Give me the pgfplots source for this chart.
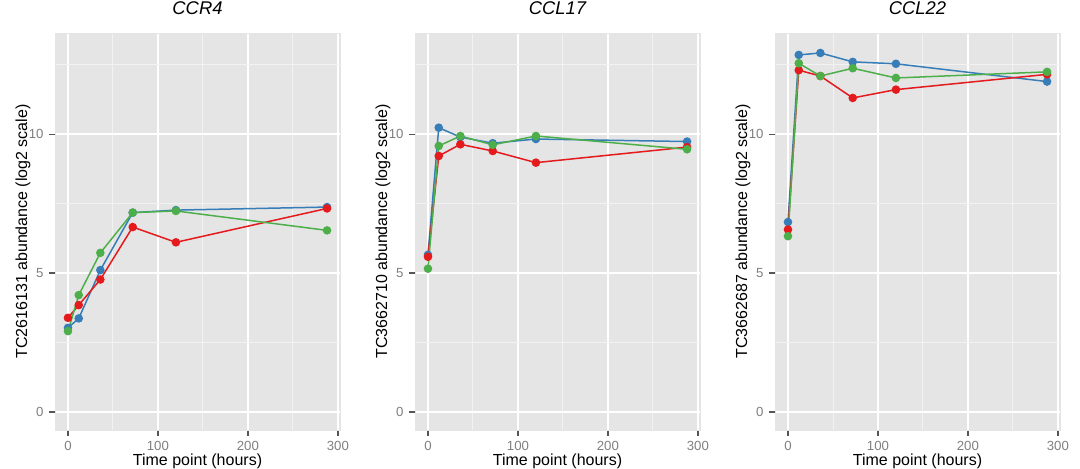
\documentclass[border=0pt]{standalone}
\usepackage{fontspec}
\setmainfont{Liberation Sans}
\usepackage{pgfplots}
\usepackage{pgfplotstable}
\pgfplotsset{compat=1.18}

\definecolor{panelbg}{HTML}{E5E5E5}
\definecolor{minorgrid}{HTML}{F2F2F2}
\definecolor{ticktext}{HTML}{7F7F7F}
\definecolor{tickmark}{HTML}{555555}
\definecolor{sred}{HTML}{E41A1C}
\definecolor{sblue}{HTML}{377EB8}
\definecolor{sgreen}{HTML}{4DAF4A}

% time (h), three replicate series per gene
\pgfplotstableread{
t   blue  red   green
0   3.03  3.39  2.91
12  3.37  3.85  4.21
36  5.11  4.77  5.73
72  7.18  6.66  7.18
120 7.27  6.11  7.24
288 7.38  7.33  6.54
}\ccrfour

\pgfplotstableread{
t   blue  red   green
0   5.66  5.59  5.16
12  10.24 9.22  9.58
36  9.90  9.64  9.94
72  9.68  9.40  9.62
120 9.83  8.98  9.94
288 9.74  9.54  9.46
}\ccltwelve

\pgfplotstableread{
t   blue  red   green
0   6.84  6.57  6.33
12  12.86 12.31 12.56
36  12.93 12.10 12.10
72  12.61 11.31 12.38
120 12.54 11.61 12.03
288 11.90 12.16 12.25
}\cclttwo

\pgfplotsset{
  ggpanel/.style={
    scale only axis,
    width=142.5pt, height=198.5pt,
    xmin=-14.4, xmax=302.4,
    ymin=-0.65, ymax=13.65,
    axis background/.style={fill=panelbg},
    axis line style={draw=panelbg},
    grid=both,
    xtick={0,100,200,300}, ytick={0,5,10},
    minor xtick={50,150,250}, minor ytick={2.5,7.5,12.5},
    xtick pos=left, ytick pos=left,
    xtick align=outside, ytick align=outside,
    major tick length=3pt, minor tick length=0pt,
    every tick/.append style={tickmark, line width=0.8pt},
    major grid style={draw=white, line width=0.9pt},
    minor grid style={draw=minorgrid, line width=0.45pt},
    /pgf/number format/assume math mode=true,
    ticklabel style={font=\fontsize{6.6}{7}\selectfont, text=ticktext},
    xticklabel style={yshift=0.8pt},
    yticklabel style={xshift=0.8pt},
    title style={font=\itshape\fontsize{9.2}{11}\selectfont,
      at={(axis description cs:0.5,1)}, anchor=base, yshift=3pt},
    xlabel style={font=\fontsize{8}{9}\selectfont,
      at={(axis description cs:0.5,0)}, anchor=base, yshift=-18pt},
    ylabel style={font=\fontsize{8}{9}\selectfont,
      at={(axis description cs:-0.098,0.5)}, anchor=base},
    xlabel={Time point (hours)},
    every axis plot/.append style={line width=0.75pt, mark=*,
      mark size=1.75pt, mark options={solid}},
  },
}

\begin{document}
\begin{tikzpicture}
\useasboundingbox (0,0) rectangle (540pt,234.5pt);

\begin{axis}[ggpanel, at={(27.5pt,19.5pt)}, anchor=south west,
  title={CCR4}, ylabel={TC2616131 abundance (log2 scale)}]
  \addplot[sblue] table[x=t, y=blue] {\ccrfour};
  \addplot[sred] table[x=t, y=red] {\ccrfour};
  \addplot[sgreen] table[x=t, y=green] {\ccrfour};
\end{axis}

\begin{axis}[ggpanel, at={(207.5pt,19.5pt)}, anchor=south west,
  title={CCL17}, ylabel={TC3662710 abundance (log2 scale)}]
  \addplot[sblue] table[x=t, y=blue] {\ccltwelve};
  \addplot[sred] table[x=t, y=red] {\ccltwelve};
  \addplot[sgreen] table[x=t, y=green] {\ccltwelve};
\end{axis}

\begin{axis}[ggpanel, at={(387.5pt,19.5pt)}, anchor=south west,
  title={CCL22}, ylabel={TC3662687 abundance (log2 scale)}]
  \addplot[sblue] table[x=t, y=blue] {\cclttwo};
  \addplot[sred] table[x=t, y=red] {\cclttwo};
  \addplot[sgreen] table[x=t, y=green] {\cclttwo};
\end{axis}
\end{tikzpicture}
\end{document}
